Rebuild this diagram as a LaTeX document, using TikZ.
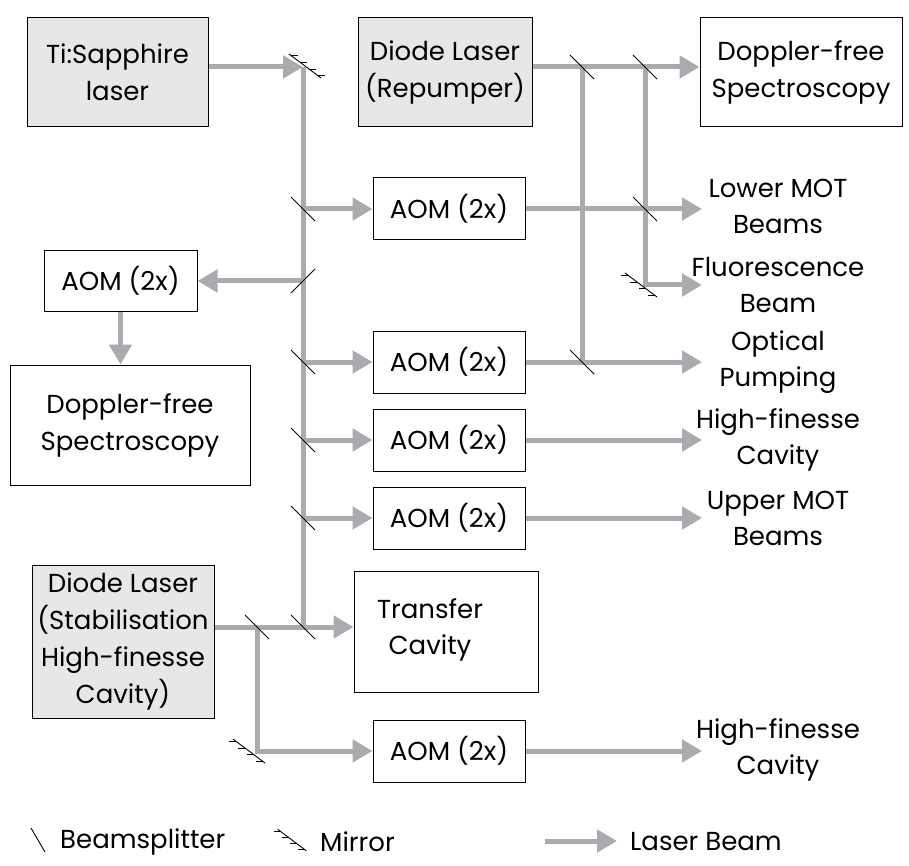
\documentclass[tikz,border=0pt]{standalone}
\usepackage{fontspec}
\setmainfont{Poppins}
\usetikzlibrary{arrows.meta}
\definecolor{beamc}{RGB}{170,171,174}
\definecolor{boxfill}{RGB}{230,231,233}
\tikzset{
  beam/.style={draw=beamc, line width=5pt},
  arr/.style={beam, -{Triangle[length=20pt,width=22pt]}},
  box/.style={draw=black, line width=1pt, inner sep=0pt, align=center,
    font=\fontsize{26}{37}\selectfont},
  graybox/.style={box, fill=boxfill},
  lbl/.style={align=center, inner sep=0pt, font=\fontsize{26}{36}\selectfont},
  bsB/.pic={\draw[line width=0.9pt] (-12,-12) -- (12,12);},
  bsF/.pic={\draw[line width=0.9pt] (-12,12) -- (12,-12);},
  mirrorR/.pic={\draw[line width=0.9pt] (-16,-12) -- (16,12);
    \foreach \t in {-0.85,-0.3,0.25,0.8} \draw[line width=0.9pt] (16*\t,12*\t) -- ++(7,0);},
  mirrorL/.pic={\draw[line width=0.9pt] (-16,-12) -- (16,12);
    \foreach \t in {-0.8,-0.25,0.3,0.85} \draw[line width=0.9pt] (16*\t,12*\t) -- ++(-7,0);}
}
\begin{document}
\begin{tikzpicture}[x=1pt,y=-1pt]
\useasboundingbox (0,0) rectangle (909,866);
% boxes
\node[graybox, minimum width=181pt, minimum height=109pt] (ti) at (117.5,72.5) {Ti:Sapphire\\laser};
\node[graybox, minimum width=174pt, minimum height=109pt] (rep) at (445,72.5) {Diode Laser\\(Repumper)};
\node[box, minimum width=202pt, minimum height=109pt] (dopR) at (801,72.5) {Doppler-free\\Spectroscopy};
\node[box, minimum width=152pt, minimum height=62pt] (aom1) at (449,209) {AOM (2x)};
\node[box, minimum width=153pt, minimum height=60pt] (aomL) at (120.5,281) {AOM (2x)};
\node[box, minimum width=240pt, minimum height=120pt] (dopL) at (130,425) {Doppler-free\\Spectroscopy};
\node[box, minimum width=152pt, minimum height=62pt] (aom2) at (449,362) {AOM (2x)};
\node[box, minimum width=152pt, minimum height=62pt] (aom3) at (449,440) {AOM (2x)};
\node[box, minimum width=152pt, minimum height=62pt] (aom4) at (449,518) {AOM (2x)};
\node[graybox, minimum width=182pt, minimum height=153pt] (stab) at (123,641.5) {Diode Laser\\(Stabilisation\\High-finesse\\Cavity)};
\node[box, minimum width=184pt, minimum height=121pt] (tc) at (446,631.5) {};
\node[lbl] (tct) at (430,630) {Transfer\\Cavity};
\node[box, minimum width=152pt, minimum height=62pt] (aom5) at (449,751) {AOM (2x)};
% right labels
\node[lbl] (l1) at (778,206) {Lower MOT\\Beams};
\node[lbl] (lF) at (778,285) {Fluorescence\\Beam};
\node[lbl] (l2) at (778,362) {Optical\\Pumping};
\node[lbl] (l3) at (778,440) {High-finesse\\Cavity};
\node[lbl] (l4) at (778,518) {Upper MOT\\Beams};
\node[lbl] (l5) at (778,750) {High-finesse\\Cavity};
% coordinates
\coordinate (mTi) at (303,67);
\coordinate (s1) at (303,209);
\coordinate (s2) at (303,281);
\coordinate (s3) at (303,362);
\coordinate (s4) at (303,440);
\coordinate (s5) at (303,518);
\coordinate (s6) at (303,627);
\coordinate (r1) at (582,67);
\coordinate (r2) at (645,67);
\coordinate (q1) at (645,209);
\coordinate (mF) at (645,285);
\coordinate (q2) at (582,362);
\coordinate (t1) at (257,627);
\coordinate (mB) at (257,751);
\coordinate (e1) at (702,209);
\coordinate (eF) at (702,285);
\coordinate (e2) at (702,362);
\coordinate (e3) at (702,440);
\coordinate (e4) at (702,518);
\coordinate (e5) at (702,751);
% beams
\draw[arr] (ti.east |- mTi) -- (mTi);
\draw[beam] (mTi) -- (s6);
\draw[arr] (s1) -- (aom1.west |- s1);
\draw[arr] (s2) -- (aomL.east |- s2);
\draw[arr] (s3) -- (aom2.west |- s3);
\draw[arr] (s4) -- (aom3.west |- s4);
\draw[arr] (s5) -- (aom4.west |- s5);
\draw[arr] (aomL.south) -- (aomL.south |- dopL.north);
\draw[arr] (rep.east |- r1) -- (dopR.west |- r1);
\draw[beam] (r1) -- (q2);
\draw[arr] (r2) |- (eF);
\draw[arr] (aom1.east) -- (e1);
\draw[arr] (aom2.east) -- (e2);
\draw[arr] (aom3.east) -- (e3);
\draw[arr] (aom4.east) -- (e4);
\draw[arr] (stab.east |- s6) -- (tc.west |- s6);
\draw[arr] (t1) |- (aom5.west);
\draw[arr] (aom5.east) -- (e5);
% splitters and mirrors
\foreach \c in {s1,s3,s4,s5,s6,r1,r2,q1,q2,t1} \pic at (\c) {bsB};
\pic at (s2) {bsF};
\pic at ([xshift=2pt,yshift=1pt]mTi) {mirrorR};
\pic at ([xshift=-4pt]mF) {mirrorL};
\pic at ([xshift=-8pt]mB) {mirrorL};
% legend
\coordinate (lgA) at (31,828);
\coordinate (lgB) at (45,852);
\draw[line width=0.9pt] (lgA) -- (lgB);
\node[lbl, anchor=west] (lgbs) at (60,842) {Beamsplitter};
\pic[scale=0.9] at (292,840) {mirrorL};
\node[lbl, anchor=west] (lgm) at (320,842) {Mirror};
\coordinate (lgC) at (545,841);
\coordinate (lgD) at (617,841);
\draw[arr] (lgC) -- (lgD);
\node[lbl, anchor=west] (lglb) at (630,842) {Laser Beam};
\end{tikzpicture}
\end{document}
